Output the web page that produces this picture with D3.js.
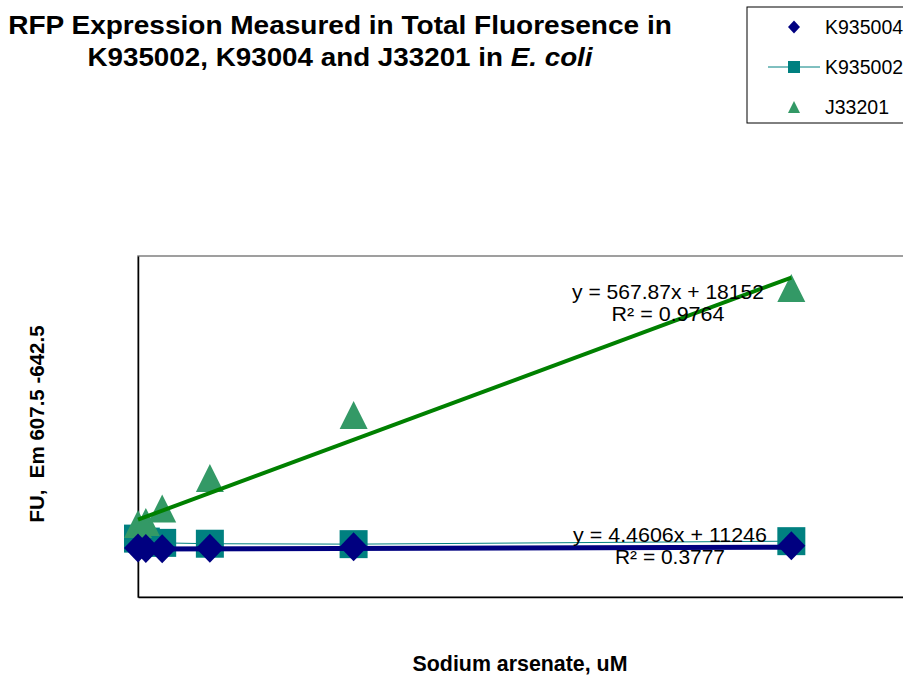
<!DOCTYPE html>
<html>
<head>
<meta charset="utf-8">
<script src="https://cdn.jsdelivr.net/npm/d3@7"></script>
<style>
  html, body { margin: 0; padding: 0; background: #fff; }
  svg { display: block; font-family: "Liberation Sans", Arial, Helvetica, sans-serif; }
</style>
</head>
<body>
<svg id="chart" width="903" height="678"></svg>
<script>
// Sodium arsenate concentrations (uM)
const concentrations = [0, 1.2, 3.7, 11, 33, 100];

// Total fluorescence readings (FU) per construct
const k935004 = [11500, 11400, 11300, 11430, 11800, 12040];
const k935002 = [13700, 13000, 12700, 12500, 12400, 13100];
const j33201  = [17130, 17600, 20770, 27900, 42700, 72500];

// Linear trendlines shown on the chart
const fitJ33201  = { slope: 567.87, intercept: 18152, r2: 0.9764 };
const fitK935004 = { slope: 4.4606, intercept: 11246, r2: 0.3777 };

const seriesNames = ["K935004", "K935002", "J33201"];
const xDomain = [0, 120];
const yDomain = [0, 80000];

const colors = {
  diamond: "#000080",
  square: "#008080",
  triangle: "#339966",
  greenFit: "#008000",
  navyFit: "#000080"
};

const svg = d3.select("#chart");
const plot = { left: 138, top: 256, width: 784, height: 341 };

const x = d3.scaleLinear().domain(xDomain).range([plot.left, plot.left + plot.width]);
const y = d3.scaleLinear().domain(yDomain).range([plot.top + plot.height, plot.top]);

// Marker shapes, centred on their bounding box
function diamondPath(w, h) {
  return `M0,${-h/2}L${w/2},0L0,${h/2}L${-w/2},0Z`;
}
function squarePath(s) {
  return `M${-s/2},${-s/2}h${s}v${s}h${-s}Z`;
}
function trianglePath(w, h) {
  return `M0,${-h/2}L${w/2},${h/2}L${-w/2},${h/2}Z`;
}

// Stretch a text element horizontally to a given width around its anchor
function fitWidth(sel, target, cx) {
  const bw = sel.node().getBBox().width;
  if (bw > 0) {
    const k = target / bw;
    sel.attr("transform", `translate(${cx},0) scale(${k},1) translate(${-cx},0)`);
  }
}

// Plot area frame
svg.append("rect")
  .attr("x", plot.left).attr("y", plot.top)
  .attr("width", plot.width).attr("height", plot.height)
  .attr("fill", "#fff").attr("stroke", "#808080").attr("stroke-width", 1.5);

// Axes (line only, no ticks)
svg.append("g")
  .attr("transform", `translate(0,${plot.top + plot.height})`)
  .call(d3.axisBottom(x).tickValues([]).tickSizeOuter(0))
  .select(".domain").attr("stroke", "#000").attr("stroke-width", 1.5);
svg.append("g")
  .attr("transform", `translate(${plot.left},0)`)
  .call(d3.axisLeft(y).tickValues([]).tickSizeOuter(0))
  .select(".domain").attr("stroke", "#000").attr("stroke-width", 1.5);

const pts = (vals) => concentrations.map((c, i) => [c, vals[i]]);

// K935002: connected squares
svg.append("path")
  .datum(pts(k935002))
  .attr("fill", "none")
  .attr("stroke", colors.square)
  .attr("stroke-width", 1)
  .attr("d", d3.line().x(d => x(d[0])).y(d => y(d[1])));

svg.append("g").selectAll("path")
  .data(pts(k935002)).join("path")
  .attr("d", squarePath(28))
  .attr("fill", colors.square)
  .attr("transform", d => `translate(${x(d[0])},${y(d[1])})`);

// J33201 triangles
svg.append("g").selectAll("path")
  .data(pts(j33201)).join("path")
  .attr("d", trianglePath(28, 28))
  .attr("fill", colors.triangle)
  .attr("transform", d => `translate(${x(d[0])},${y(d[1])})`);

// Trendlines over the measured concentration range
const xr = d3.extent(concentrations);
function fitLine(fit, color, width) {
  svg.append("line")
    .attr("x1", x(xr[0])).attr("y1", y(fit.intercept + fit.slope * xr[0]))
    .attr("x2", x(xr[1])).attr("y2", y(fit.intercept + fit.slope * xr[1]))
    .attr("stroke", color).attr("stroke-width", width);
}
fitLine(fitJ33201, colors.greenFit, 4);
fitLine(fitK935004, colors.navyFit, 5);

// K935004 diamonds
svg.append("g").selectAll("path")
  .data(pts(k935004)).join("path")
  .attr("d", diamondPath(28, 29))
  .attr("fill", colors.diamond)
  .attr("transform", d => `translate(${x(d[0])},${y(d[1])})`);

// Trendline equations
function eqLabel(fit, cx, baseline, w1, w2) {
  const a = svg.append("text")
    .attr("x", cx).attr("y", baseline)
    .attr("text-anchor", "middle").attr("font-size", 20).attr("fill", "#000")
    .text(`y = ${fit.slope}x + ${fit.intercept}`);
  fitWidth(a, w1, cx);
  const b = svg.append("text")
    .attr("x", cx).attr("y", baseline + 22)
    .attr("text-anchor", "middle").attr("font-size", 20).attr("fill", "#000")
    .text(`R² = ${fit.r2}`);
  fitWidth(b, w2, cx);
}
eqLabel(fitJ33201, 668, 299, 192, 113);
eqLabel(fitK935004, 670, 542, 194, 110);

// Title
const t1 = svg.append("text")
  .attr("x", 340).attr("y", 34)
  .attr("text-anchor", "middle").attr("font-size", 26).attr("font-weight", "bold")
  .text("RFP Expression Measured in Total Fluoresence in");
fitWidth(t1, 664, 340);
const t2 = svg.append("text")
  .attr("x", 340).attr("y", 66)
  .attr("text-anchor", "middle").attr("font-size", 26).attr("font-weight", "bold");
t2.append("tspan").text("K935002, K93004 and J33201 in ");
t2.append("tspan").attr("font-style", "italic").text("E. coli");
fitWidth(t2, 506, 340);

// Axis titles
const xt = svg.append("text")
  .attr("x", 520).attr("y", 671)
  .attr("text-anchor", "middle").attr("font-size", 22).attr("font-weight", "bold")
  .text("Sodium arsenate, uM");
fitWidth(xt, 215, 520);

svg.append("g")
  .attr("transform", "translate(44,424) rotate(-90)")
  .append("text")
  .attr("text-anchor", "middle").attr("font-size", 20.5).attr("font-weight", "bold")
  .style("white-space", "pre")
  .text("FU,  Em 607.5 -642.5");

// Legend
const lg = svg.append("g");
lg.append("rect")
  .attr("x", 747).attr("y", 7).attr("width", 200).attr("height", 116)
  .attr("fill", "#fff").attr("stroke", "#000").attr("stroke-width", 1);
const legendRows = [
  { name: seriesNames[0], shape: diamondPath(12, 13), color: colors.diamond, line: false },
  { name: seriesNames[1], shape: squarePath(12), color: colors.square, line: true },
  { name: seriesNames[2], shape: trianglePath(12, 12), color: colors.triangle, line: false }
];
legendRows.forEach((r, i) => {
  const cy = 27 + i * 40;
  if (r.line) {
    lg.append("line").attr("x1", 768).attr("x2", 820).attr("y1", cy).attr("y2", cy)
      .attr("stroke", r.color).attr("stroke-width", 1);
  }
  lg.append("path").attr("d", r.shape).attr("fill", r.color)
    .attr("transform", `translate(794,${cy})`);
  lg.append("text").attr("x", 825).attr("y", cy + 7)
    .attr("font-size", 19.5).attr("fill", "#000").text(r.name);
});
</script>
</body>
</html>
